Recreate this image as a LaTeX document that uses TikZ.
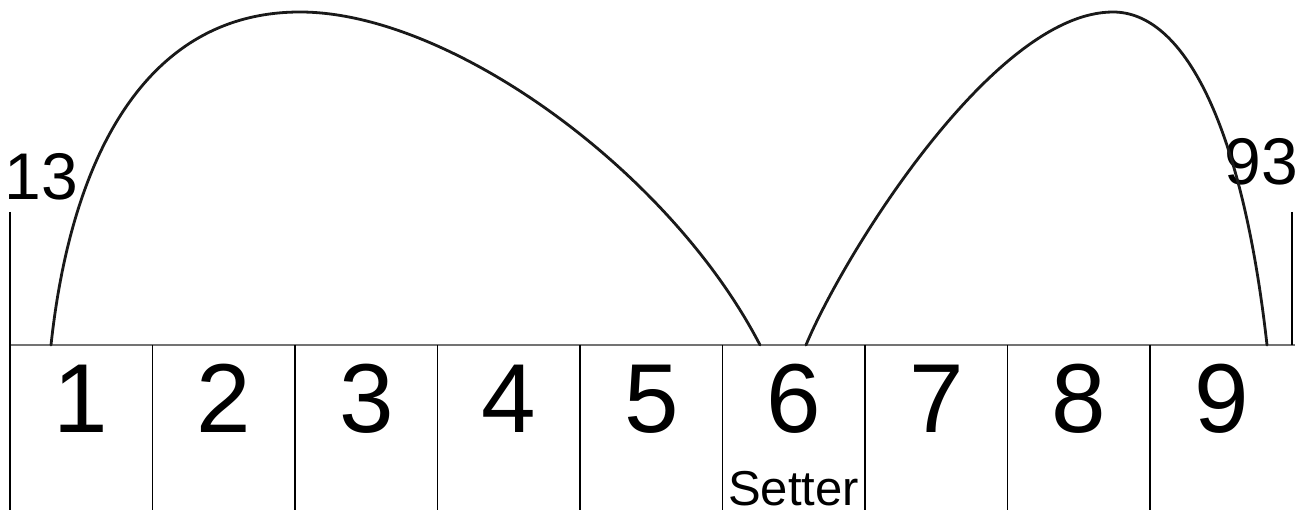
\documentclass[tikz,border=0pt]{standalone}
\usepackage{fontspec}
\setmainfont{Liberation Sans}
\begin{document}
\begin{tikzpicture}[x=1pt,y=-1pt,
  baseline/.style={draw=black!55,line width=2pt},
  divider/.style={draw=black,line width=1.4pt},
  arc/.style={draw=black!90,line width=2.8pt,line cap=round},
  digit/.style={anchor=base,inner sep=0pt,font=\fontsize{98}{98}\selectfont},
  small/.style={anchor=base,inner sep=0pt,font=\fontsize{49}{49}\selectfont},
  endlabel/.style={anchor=base,inner sep=0pt,font=\fontsize{66}{66}\selectfont}]
\useasboundingbox (0,0) rectangle (1295,510);
% court line
\coordinate (L0) at (10,345);
\coordinate (R0) at (1295,345);
\draw[baseline] (L0) -- (R0);
% side posts
\coordinate (LT) at (10,212);
\coordinate (LB) at (10,510);
\draw[divider] (LT) -- (LB);
\coordinate (RT) at (1292,212);
\coordinate (RB) at (1292,345);
\draw[divider] (RT) -- (RB);
% cell dividers
\foreach \i in {1,...,8}{
  \coordinate (d\i t) at ({10+142.5*\i},345);
  \coordinate (d\i b) at ({10+142.5*\i},510);
  \draw[divider] (d\i t) -- (d\i b);
}
% digits
\foreach \i in {1,...,9}{
  \node[digit] (n\i) at ({10+142.5*(\i-0.5)},432) {\i};
}
\node[small] (setter) at (793.5,505) {Setter};
\node[endlabel] (l13) at (41.5,200) {13};
\node[endlabel] (l93) at (1261.5,185) {93};
% trajectories
\coordinate (a0) at (51,345);
\coordinate (a1) at (300,12);
\coordinate (a2) at (760,345);
\draw[arc] (a0) .. controls (72,150) and (150,12) .. (a1)
                .. controls (450,12) and (670,171) .. (a2);
\coordinate (b0) at (806,345);
\coordinate (b1) at (1113,12);
\coordinate (b2) at (1267,345);
\draw[arc] (b0) .. controls (842,258) and (993,12) .. (b1)
                .. controls (1183,12) and (1242,122) .. (b2);
\end{tikzpicture}
\end{document}
